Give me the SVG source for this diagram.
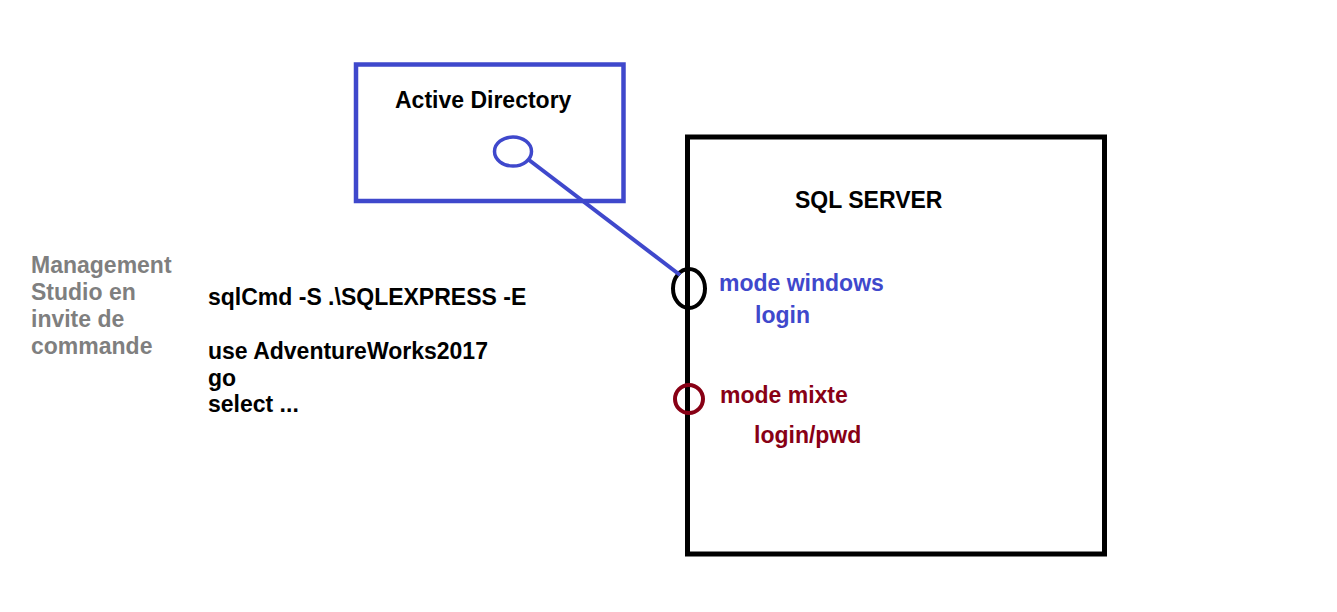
<svg xmlns="http://www.w3.org/2000/svg" width="1337" height="612" viewBox="0 0 1337 612">
<style>
text{font-family:"Liberation Sans",Arial,sans-serif;font-weight:bold;font-size:23px}
.k{fill:#000}
.b{fill:#3F48CC}
.r{fill:#880015}
.g{fill:#7F7F7F}
</style>
<rect width="1337" height="612" fill="#fff"/>
<g id="active-directory">
<rect x="356" y="64.5" width="267.5" height="136.5" fill="none" stroke="#3F48CC" stroke-width="4.5"/>
<text class="k" x="395" y="107.5">Active Directory</text>
<ellipse cx="513" cy="151.5" rx="18.5" ry="14.5" fill="none" stroke="#3F48CC" stroke-width="3.5"/>
</g>
<g id="sql-server">
<rect x="687.5" y="137" width="417" height="417" fill="none" stroke="#000" stroke-width="5"/>
<text class="k" x="795" y="207.5">SQL SERVER</text>
</g>
<g id="mode-windows">
<ellipse cx="689" cy="288.5" rx="16" ry="19.5" fill="none" stroke="#000" stroke-width="4"/>
<text class="b" x="719" y="290.7">mode windows</text>
<text class="b" x="755" y="322.7">login</text>
</g>
<g id="mode-mixte">
<circle cx="689" cy="399" r="14" fill="none" stroke="#880015" stroke-width="4"/>
<text class="r" x="720" y="402.7">mode mixte</text>
<text class="r" x="754" y="443.3">login/pwd</text>
</g>
<g id="management-studio">
<text class="g" x="31" y="272.5">Management</text>
<text class="g" x="31" y="299.5">Studio en</text>
<text class="g" x="31" y="326.5">invite de</text>
<text class="g" x="31" y="353.5">commande</text>
</g>
<g id="commands">
<text class="k" x="208" y="304.5">sqlCmd -S .\SQLEXPRESS -E</text>
<text class="k" x="208" y="359">use AdventureWorks2017</text>
<text class="k" x="208" y="385.5">go</text>
<text class="k" x="208" y="412">select ...</text>
</g>
<g id="connectors">
<line x1="529" y1="160" x2="680" y2="275" stroke="#3F48CC" stroke-width="4"/>
</g>
</svg>
